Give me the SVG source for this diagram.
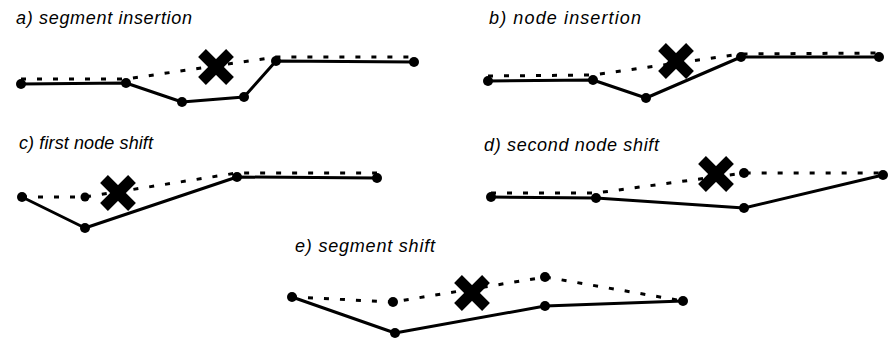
<svg xmlns="http://www.w3.org/2000/svg" width="892" height="345" viewBox="0 0 892 345">
<defs>
<style>
.lbl{font-family:"Liberation Sans",Arial,sans-serif;font-style:italic;font-size:18px;fill:#000}
.solid{fill:none;stroke:#000;stroke-width:3;stroke-linejoin:round}
.dash{fill:none;stroke:#000;stroke-width:3;stroke-dasharray:5 11}
.dot{fill:#000}
.xm{stroke:#000;stroke-width:11;stroke-linecap:butt}
</style>
<g id="xmark"><line class="xm" x1="-14" y1="-14" x2="14" y2="14"/><line class="xm" x1="-14" y1="14" x2="14" y2="-14"/></g>
</defs>
<rect width="892" height="345" fill="#fff"/>

<g id="panel-a">
<text class="lbl" x="16" y="24" textLength="176" lengthAdjust="spacing">a) segment insertion</text>
<g id="a-connectors">
<polyline class="dash" points="21,79 126,79 276,57 414,57"/>
<polyline class="solid" points="21,84 126,83 182,102 244,97 276,61 414,62"/>
</g>
<g id="a-nodes">
<circle class="dot" cx="21" cy="84" r="5"/><circle class="dot" cx="126" cy="83" r="5"/><circle class="dot" cx="182" cy="102" r="5"/><circle class="dot" cx="244" cy="97" r="5"/><circle class="dot" cx="276" cy="61" r="5"/><circle class="dot" cx="414" cy="62" r="5"/>
</g>
<use href="#xmark" x="216" y="67"/>
</g>

<g id="panel-b">
<text class="lbl" x="489" y="24" textLength="152" lengthAdjust="spacing">b) node insertion</text>
<g id="b-connectors">
<polyline class="dash" points="488,76 593,75 741,54 879,53"/>
<polyline class="solid" points="488,81 593,80 646,98 741,57 879,57"/>
</g>
<g id="b-nodes">
<circle class="dot" cx="488" cy="81" r="5"/><circle class="dot" cx="593" cy="80" r="5"/><circle class="dot" cx="646" cy="98" r="5"/><circle class="dot" cx="741" cy="57" r="5"/><circle class="dot" cx="879" cy="57" r="5"/>
</g>
<use href="#xmark" x="676" y="61"/>
</g>

<g id="panel-c">
<text class="lbl" x="19" y="149" textLength="134" lengthAdjust="spacing">c) first node shift</text>
<g id="c-connectors">
<polyline class="dash" points="22,197 85,197 237,173 377,173"/>
<polyline class="solid" points="22,197 85,228 237,177 377,178"/>
</g>
<g id="c-nodes">
<circle class="dot" cx="22" cy="197" r="5"/><circle class="dot" cx="85" cy="197" r="4.5"/><circle class="dot" cx="85" cy="228" r="5"/><circle class="dot" cx="237" cy="177" r="5"/><circle class="dot" cx="377" cy="178" r="5"/>
</g>
<use href="#xmark" x="118" y="193"/>
</g>

<g id="panel-d">
<text class="lbl" x="484" y="151" textLength="175" lengthAdjust="spacing">d) second node shift</text>
<g id="d-connectors">
<polyline class="dash" points="491,193 596,193 744,173 883,173"/>
<polyline class="solid" points="491,197 596,198 744,208 883,175"/>
</g>
<g id="d-nodes">
<circle class="dot" cx="491" cy="197" r="5"/><circle class="dot" cx="596" cy="198" r="5"/><circle class="dot" cx="744" cy="208" r="5"/><circle class="dot" cx="744" cy="173" r="5"/><circle class="dot" cx="883" cy="175" r="5"/>
</g>
<use href="#xmark" x="716" y="174"/>
</g>

<g id="panel-e">
<text class="lbl" x="295" y="252" textLength="140" lengthAdjust="spacing">e) segment shift</text>
<g id="e-connectors">
<polyline class="dash" points="292,297 393,302 545,277 683,301"/>
<polyline class="solid" points="292,297 395,333 545,306 683,301"/>
</g>
<g id="e-nodes">
<circle class="dot" cx="292" cy="297" r="5"/><circle class="dot" cx="393" cy="302" r="5"/><circle class="dot" cx="545" cy="277" r="5"/><circle class="dot" cx="395" cy="333" r="5"/><circle class="dot" cx="545" cy="306" r="5"/><circle class="dot" cx="683" cy="301" r="5"/>
</g>
<use href="#xmark" x="472" y="293"/>
</g>
</svg>
